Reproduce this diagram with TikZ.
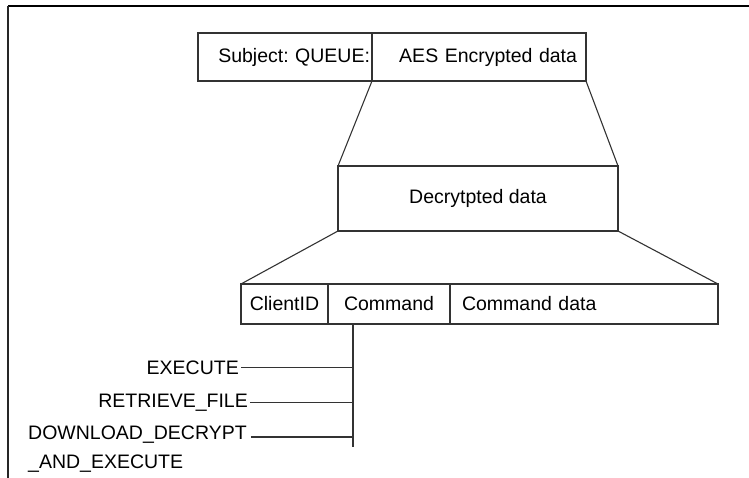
\documentclass[tikz,border=0pt]{standalone}
\usepackage{fontspec}
\setmainfont{Liberation Sans}
\usetikzlibrary{positioning}
\frenchspacing

\tikzset{
  field/.style={draw=black!80, line width=1.1pt, outer sep=0pt, inner sep=0pt, minimum height=40pt},
  conn/.style={draw=black!80, line width=1.1pt},
  cmdname/.style={inner sep=2pt},
}

\begin{document}
\begin{tikzpicture}[x=1pt,y=-1pt,font=\fontsize{19.5}{29}\selectfont]
        \useasboundingbox (0,0) rectangle (749,478);
        \draw[line width=2.5pt] (8,6) -- (749,6);
        \draw[line width=2pt, black!85] (8,6) -- (8,478);
        % message
        \node[field, minimum width=174pt, minimum height=48pt, text width=170pt, align=right, anchor=north west] (subj) at (198,33) {Subject: QUEUE:};
        \node[field, minimum width=214pt, minimum height=48pt, text width=196pt, align=right, right=0pt of subj] (aes) {AES Encrypted data};
        \node[field, minimum width=280pt, minimum height=65pt, anchor=north west] (dec) at (338,166) {Decrytpted data};
        \draw[conn] (aes.south west) -- (dec.north west);
        \draw[conn] (aes.south east) -- (dec.north east);
        % fields
        \node[field, minimum width=87pt, anchor=north west] (cid) at (241,284) {ClientID};
        \node[field, minimum width=122pt, right=0pt of cid] (cmd) {Command};
        \node[field, minimum width=268pt, text width=244pt, align=left, right=0pt of cmd] (cmdd) {Command data};
        \draw[conn] (dec.south west) -- (cid.north west);
        \draw[conn] (dec.south east) -- (cmdd.north east);
        % commands
        \coordinate (trunk) at ([xshift=25pt]cmd.south west);
        \coordinate (trunkend) at ([yshift=-123pt]trunk);
        \draw[conn] (trunk) -- (trunkend);
        \node[cmdname, anchor=base east] (exe) at (241,374) {EXECUTE};
        \node[cmdname, anchor=base east] (ret) at (250,407) {RETRIEVE\_FILE};
        \node[inner sep=0pt, anchor=north west, align=left] (dl) at (28,426) {DOWNLOAD\_DECRYPT\\\_AND\_EXECUTE};
        \draw[conn] (exe.east) -- (exe.east -| trunk);
        \draw[conn] (ret.east) -- (ret.east -| trunk);
        \draw[conn] ([xshift=4pt,yshift=-11pt]dl.north east) -- ([yshift=-11pt]dl.north east -| trunk);
\end{tikzpicture}
\end{document}
